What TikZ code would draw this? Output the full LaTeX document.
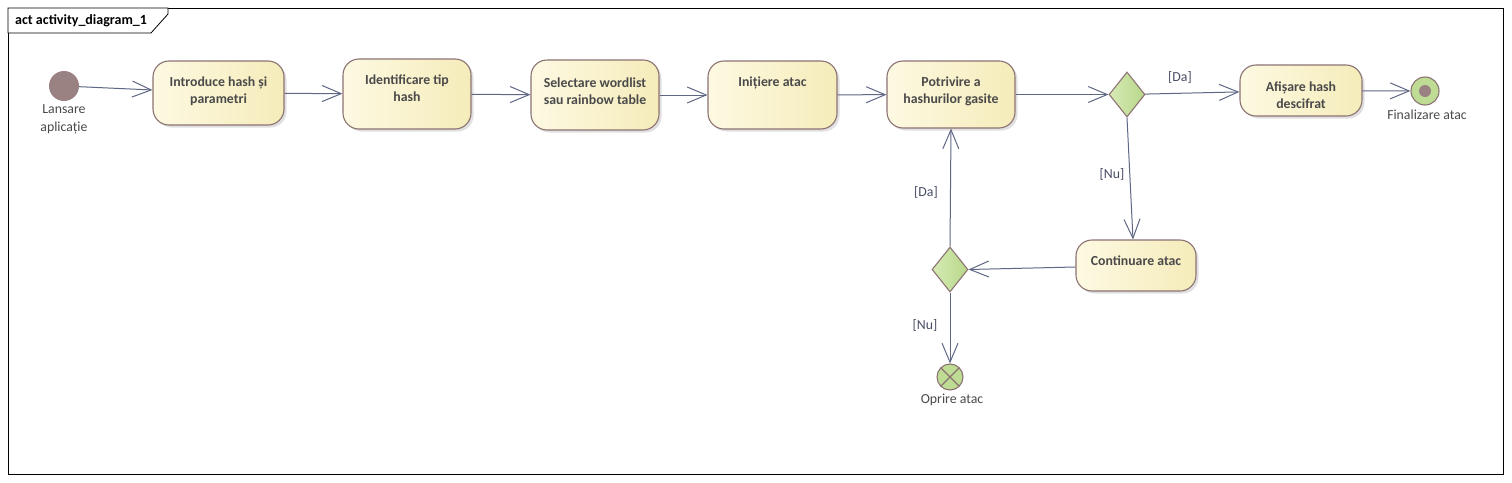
\documentclass[tikz,border=0pt]{standalone}
\usepackage{fontspec}
\setmainfont{Carlito}
\usetikzlibrary{arrows.meta,shapes.geometric,shadows}
\definecolor{edgec}{HTML}{5F6785}
\definecolor{bordc}{HTML}{8C7373}
\definecolor{txtc}{HTML}{4A4A4A}
\definecolor{boxl}{HTML}{FDF9E2}
\definecolor{boxr}{HTML}{F5ECBA}
\definecolor{grl}{HTML}{D6EAB5}
\definecolor{grr}{HTML}{B8D88A}
\definecolor{initc}{HTML}{9A8282}
\tikzset{
  act/.style={draw=bordc, line width=1.1pt, rounded corners=16pt, shading=axis,
    left color=boxl, right color=boxr,
    general shadow={shadow xshift=2.5pt, shadow yshift=-2.5pt, fill=black!12}},
  acttext/.style={anchor=north, inner sep=0pt, align=center, text=txtc,
    font=\fontsize{13.8}{17.5}\selectfont\bfseries},
  dec/.style={diamond, draw=bordc, line width=1.1pt, inner sep=0pt, minimum width=36pt,
    minimum height=45pt, left color=grl, right color=grr},
  flow/.style={draw=edgec, line width=1pt, -{Straight Barb[length=19pt,width=16pt,line width=1pt]}},
  lbl/.style={text=txtc, font=\fontsize{13.8}{18}\selectfont, align=center, inner sep=0pt},
  glbl/.style={text=edgec!75!black, font=\fontsize{13.8}{16}\selectfont, inner sep=0pt}
}
\begin{document}
\begin{tikzpicture}[x=1pt,y=-1pt]
\useasboundingbox (0,0) rectangle (1512,482);
\fill[white] (0,0) rectangle (1512,482);
% frame
\draw[black, line width=0.8pt] (8,8) rectangle (1503,474);
\draw[black, line width=0.8pt, fill=white] (8,8) -- (168,8) -- (168,14) -- (151,33) -- (8,33) -- cycle;
\node[anchor=west, inner sep=0pt, font=\fontsize{14}{16}\selectfont\bfseries] (title) at (15,20.5) {act activity\_diagram\_1};
% initial
\node[circle, fill=initc, minimum size=30pt, inner sep=0pt] (init) at (64,86) {};
\node[lbl, anchor=north] (initl) at (64,104) {Lansare\\aplicație};
% actions
\node[act, minimum width=131pt, minimum height=64pt] (A1) at (218.5,93) {};
\node[acttext] (A1t) at (218.5,76.5) {Introduce hash și\\parametri};
\node[act, minimum width=128pt, minimum height=70pt] (A2) at (407,94) {};
\node[acttext] (A2t) at (407,74.5) {Identificare tip\\hash};
\node[act, minimum width=128pt, minimum height=70pt] (A3) at (595,95) {};
\node[acttext] (A3t) at (595,77.5) {Selectare wordlist\\sau rainbow table};
\node[act, minimum width=129pt, minimum height=68pt] (A4) at (772.5,95) {};
\node[acttext] (A4t) at (772.5,76.5) {Inițiere atac};
\node[act, minimum width=128pt, minimum height=67pt] (A5) at (951,94.5) {};
\node[acttext] (A5t) at (951,76.5) {Potrivire a\\hashurilor gasite};
\node[act, minimum width=122pt, minimum height=51pt] (A6) at (1301,90.5) {};
\node[acttext] (A6t) at (1301,81.5) {Afișare hash\\descifrat};
\node[act, minimum width=120pt, minimum height=51pt] (A7) at (1136,265.5) {};
\node[acttext] (A7t) at (1136,255.5) {Continuare atac};
% decisions
\node[dec] (D1) at (1127,94.5) {};
\node[dec] (D2) at (950,269.5) {};
% final
\node[circle, draw=bordc, line width=1.1pt, fill=grr!80!grl, minimum size=28pt, inner sep=0pt,
  path picture={\fill[initc] (path picture bounding box.center) circle (6pt);}] (fin) at (1425,91) {};
\node[lbl, anchor=north] (finl) at (1427,110) {Finalizare atac};
\node[circle, draw=bordc, line width=1.1pt, fill=grr!80!grl, minimum size=26pt, inner sep=0pt,
  path picture={\draw[bordc, line width=1.1pt] ([shift={(-10pt,-10pt)}]path picture bounding box.center) -- ([shift={(10pt,10pt)}]path picture bounding box.center);
    \draw[bordc, line width=1.1pt] ([shift={(-10pt,10pt)}]path picture bounding box.center) -- ([shift={(10pt,-10pt)}]path picture bounding box.center);}] (ff) at (950,377) {};
\node[lbl, anchor=north] (ffl) at (952,394) {Oprire atac};
% edges
\draw[flow] (init) -- ([yshift=3pt]A1.west);
\draw[flow] (A1) -- (A2);
\draw[flow] (A2) -- (A3);
\draw[flow] (A3) -- (A4);
\draw[flow] (A4) -- (A5);
\draw[flow] (A5) -- (D1);
\draw[flow] (D1) -- (A6);
\draw[flow] (A6) -- (fin);
\draw[flow] (D1.south) -- ([xshift=-3pt]A7.north);
\draw[flow] ([yshift=-1.5pt]A7.west) -- (D2.east);
\draw[flow] (D2.north) -- (A5.south);
\draw[flow] (D2.south) -- (ff.north);
% guards
\node[glbl] (g1) at (1180,77) {[Da]};
\node[glbl] (g2) at (1112,174) {[Nu]};
\node[glbl] (g3) at (926,192) {[Da]};
\node[glbl] (g4) at (925,325) {[Nu]};
\end{tikzpicture}
\end{document}
